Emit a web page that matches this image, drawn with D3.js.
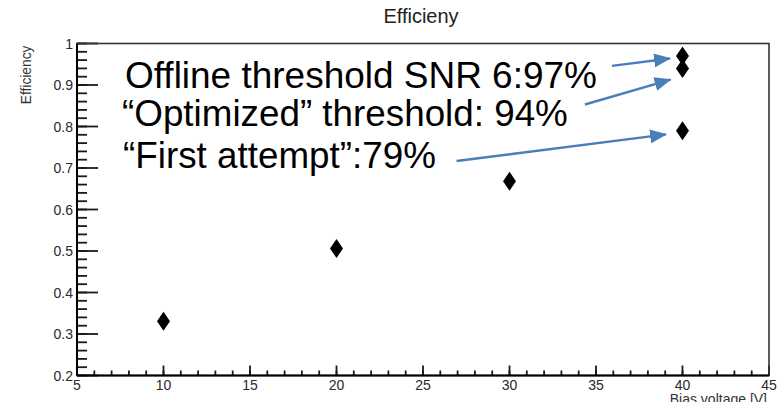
<!DOCTYPE html>
<html>
<head>
<meta charset="utf-8">
<script src="https://cdn.jsdelivr.net/npm/d3@7"></script>
<style>
  html, body { margin: 0; padding: 0; background: #fff; }
  svg { display: block; font-family: 'Liberation Sans', Arial, Helvetica, sans-serif; }
</style>
</head>
<body>
<div class="canvas"></div>
<script>
// bias voltage [V] and measured efficiency
const voltages = [10, 20, 30, 40, 40, 40]
const efficiencies = [0.331, 0.506, 0.668, 0.79, 0.94, 0.97]

const xMajorTicks = [5, 10, 15, 20, 25, 30, 35, 40, 45]
const yMajorTicks = [0.2, 0.3, 0.4, 0.5, 0.6, 0.7, 0.8, 0.9, 1]
const yTickLabels = ['0.2', '0.3', '0.4', '0.5', '0.6', '0.7', '0.8', '0.9', '1']

const title = 'Efficieny'
const xTitle = 'Bias voltage [V]'
const yTitle = 'Efficiency'

const notes = ['Offline threshold SNR 6:97%', '“Optimized” threshold: 94%', '“First attempt”:79%']
// arrow start / tip, in data units
const arrowFrom = [[35.92, 0.946], [34.36, 0.853], [26.94, 0.717]]
const arrowTo = [[39.28, 0.964], [39.31, 0.913], [39.05, 0.781]]

const size = {width: 784, height: 402}
const frame = {left: 77, right: 769, top: 43.5, bottom: 375.5}

const svg = d3.select('.canvas')
  .append('svg')
  .attr('width', size.width)
  .attr('height', size.height)

const x = d3.scaleLinear().domain([5, 45]).range([frame.left, frame.right])
const y = d3.scaleLinear().domain([0.2, 1]).range([frame.bottom, frame.top])

// minor ticks
const xMinor = d3.range(5, 45.001, 1)
const yMinor = d3.range(0.2, 1.0001, 0.02)

const ticks = svg.append('g')
  .attr('stroke', '#1a1a1a')
  .attr('stroke-width', 1.8)

ticks.selectAll('.xminor')
  .data(xMinor)
  .enter().append('line')
  .attr('x1', d => x(d)).attr('x2', d => x(d))
  .attr('y1', frame.bottom).attr('y2', frame.bottom - 5)

ticks.selectAll('.xmajor')
  .data(xMajorTicks)
  .enter().append('line')
  .attr('x1', d => x(d)).attr('x2', d => x(d))
  .attr('y1', frame.bottom).attr('y2', frame.bottom - 10)

ticks.selectAll('.yminor')
  .data(yMinor)
  .enter().append('line')
  .attr('x1', frame.left).attr('x2', frame.left + 10)
  .attr('y1', d => y(d)).attr('y2', d => y(d))

ticks.selectAll('.ymajor')
  .data(yMajorTicks)
  .enter().append('line')
  .attr('x1', frame.left).attr('x2', frame.left + 21)
  .attr('y1', d => y(d)).attr('y2', d => y(d))

// frame
svg.append('rect')
  .attr('x', frame.left)
  .attr('y', frame.top)
  .attr('width', frame.right - frame.left)
  .attr('height', frame.bottom - frame.top)
  .attr('fill', 'none')
  .attr('stroke', '#333')
  .attr('stroke-width', 1.6)

svg.append('line')
  .attr('x1', frame.left).attr('x2', frame.left)
  .attr('y1', frame.top).attr('y2', frame.bottom)
  .attr('stroke', '#000').attr('stroke-width', 2)
svg.append('line')
  .attr('x1', frame.left).attr('x2', frame.right)
  .attr('y1', frame.bottom).attr('y2', frame.bottom)
  .attr('stroke', '#000').attr('stroke-width', 2)

// tick labels
svg.append('g').selectAll('text')
  .data(xMajorTicks)
  .enter().append('text')
  .attr('x', d => x(d))
  .attr('y', 390)
  .attr('text-anchor', 'middle')
  .attr('font-size', 14)
  .attr('fill', '#2a2a2a')
  .text(d => d)

svg.append('g').selectAll('text')
  .data(yMajorTicks)
  .enter().append('text')
  .attr('x', frame.left - 4)
  .attr('y', d => y(d))
  .attr('dy', '0.36em')
  .attr('text-anchor', 'end')
  .attr('font-size', 14)
  .attr('fill', '#2a2a2a')
  .text((d, i) => yTickLabels[i])

// titles
svg.append('text')
  .attr('x', 421)
  .attr('y', 23)
  .attr('text-anchor', 'middle')
  .attr('font-size', 20)
  .attr('fill', '#222')
  .text(title)

svg.append('text')
  .attr('x', frame.right - 2)
  .attr('y', 404)
  .attr('text-anchor', 'end')
  .attr('font-size', 14)
  .attr('fill', '#333')
  .text(xTitle)

svg.append('text')
  .attr('transform', `translate(31, ${frame.top + 2}) rotate(-90)`)
  .attr('text-anchor', 'end')
  .attr('font-size', 13.8)
  .attr('fill', '#333')
  .text(yTitle)

// diamond markers
const diamond = 'M0,-9.5L6.5,0L0,9.5L-6.5,0Z'
svg.append('g').selectAll('path')
  .data(voltages.map((v, i) => ({v, e: efficiencies[i]})))
  .enter().append('path')
  .attr('d', diamond)
  .attr('transform', d => `translate(${x(d.v)}, ${y(d.e)})`)
  .attr('fill', '#000')

// annotations
const arrowColor = '#4a7ebb'
svg.append('defs').append('marker')
  .attr('id', 'head')
  .attr('markerUnits', 'userSpaceOnUse')
  .attr('viewBox', '0 0 17 14')
  .attr('markerWidth', 17)
  .attr('markerHeight', 14)
  .attr('refX', 16)
  .attr('refY', 7)
  .attr('orient', 'auto')
  .append('path')
  .attr('d', 'M0,0L17,7L0,14Z')
  .attr('fill', arrowColor)

svg.append('g').selectAll('line')
  .data(arrowFrom.map((f, i) => ({f, t: arrowTo[i]})))
  .enter().append('line')
  .attr('x1', d => x(d.f[0])).attr('y1', d => y(d.f[1]))
  .attr('x2', d => x(d.t[0])).attr('y2', d => y(d.t[1]))
  .attr('stroke', arrowColor)
  .attr('stroke-width', 2.4)
  .attr('marker-end', 'url(#head)')

const noteLayout = [
  {x: 125, y: 88, width: 472},
  {x: 122, y: 126, width: 446},
  {x: 123, y: 168, width: 313}
]

svg.append('g').selectAll('text')
  .data(notes)
  .enter().append('text')
  .attr('x', (d, i) => noteLayout[i].x)
  .attr('y', (d, i) => noteLayout[i].y)
  .attr('font-size', 37)
  .attr('fill', '#000')
  .text(d => d)
  .each(function (d, i) {
    const w = this.getComputedTextLength()
    const fs = 37 * noteLayout[i].width / w
    d3.select(this).attr('font-size', Math.min(40, Math.max(32, fs)))
  })
</script>
</body>
</html>
